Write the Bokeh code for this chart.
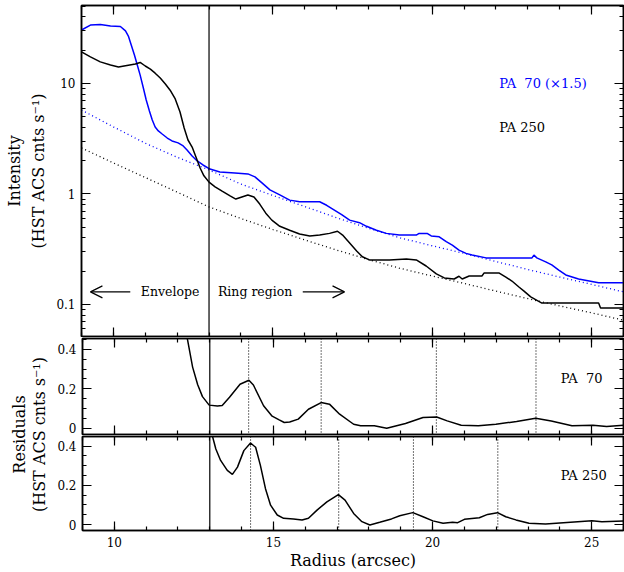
import math
from bokeh.plotting import figure
from bokeh.models import (Range1d, LinearAxis, LogAxis, FixedTicker, Span, Label, Arrow, OpenHead,
                          CustomJSTickFormatter)
from bokeh.layouts import column, row
from bokeh.embed import file_html
from bokeh.resources import INLINE

# ---------------- data ----------------
# Top panel: intensity profiles
pa70_r = [9.00, 9.28, 9.59, 9.91, 10.22, 10.38, 10.47, 10.56, 10.66, 10.75, 10.84, 10.94, 11.03, 11.13,
          11.22, 11.31, 11.41, 11.53, 11.69, 11.84, 12.03, 12.19, 12.31, 12.47, 12.63, 12.81, 13.03, 13.34,
          13.81, 14.22, 14.44, 14.66, 14.91, 15.22, 15.53, 15.84, 16.47, 16.69, 16.88, 17.16, 17.41, 17.72,
          17.94, 18.25, 18.56, 18.97, 19.50, 19.59, 19.84, 19.97, 20.22, 20.44, 20.63, 20.84, 21.06, 21.25,
          21.69, 23.13, 23.19, 23.28, 23.56, 23.75, 23.97, 24.19, 24.59, 25.22, 26.0]
pa70_i = [30.5, 33.8, 34.2, 33.1, 32.8, 29.9, 26.9, 22.3, 18.1, 14.7, 11.9, 9.10, 7.09, 5.64,
          4.68, 4.04, 3.72, 3.49, 3.21, 3.02, 2.90, 2.72, 2.50, 2.21, 1.99, 1.83, 1.68, 1.58,
          1.55, 1.52, 1.43, 1.26, 1.09, 0.98, 0.88, 0.85, 0.85, 0.79, 0.73, 0.65, 0.58, 0.55,
          0.51, 0.47, 0.44, 0.425, 0.425, 0.44, 0.44, 0.417, 0.41, 0.37, 0.345, 0.31, 0.29, 0.28,
          0.264, 0.264, 0.28, 0.264, 0.243, 0.228, 0.205, 0.185, 0.170, 0.157, 0.157]

pa250_r = [9.00, 9.28, 9.59, 9.91, 10.16, 10.38, 10.69, 10.84, 11.00, 11.16, 11.31, 11.47, 11.63, 11.78,
           11.94, 12.09, 12.22, 12.34, 12.47, 12.59, 12.72, 12.84, 13.00, 13.19, 13.41, 13.66, 13.84, 14.03,
           14.22, 14.41, 14.59, 14.78, 14.97, 15.22, 15.53, 15.84, 16.16, 16.47, 16.78, 17.03, 17.19, 17.41,
           17.63, 17.81, 18.03, 18.66, 19.19, 19.50, 19.81, 20.13, 20.38, 20.69, 20.84, 20.94, 21.16, 21.56,
           21.63, 22.09, 22.31, 22.50, 22.72, 22.88, 23.09, 23.44, 25.22, 25.28, 25.34, 26.0]
pa250_i = [19.3, 17.4, 15.7, 14.7, 14.1, 14.5, 15.0, 15.5, 14.4, 13.5, 12.4, 11.2, 9.9, 8.7,
           7.24, 5.52, 3.96, 3.08, 2.66, 2.16, 1.72, 1.46, 1.28, 1.16, 1.06, 0.96, 0.90, 0.94,
           0.98, 0.94, 0.81, 0.67, 0.58, 0.51, 0.47, 0.435, 0.417, 0.425, 0.44, 0.46, 0.425, 0.36,
           0.305, 0.27, 0.253, 0.253, 0.258, 0.253, 0.223, 0.189, 0.174, 0.170, 0.18, 0.17, 0.181, 0.181,
           0.193, 0.193, 0.177, 0.163, 0.144, 0.132, 0.117, 0.103, 0.103, 0.093, 0.093, 0.093]

# smooth envelope fits (dotted)
fit_r = [9, 10, 11, 12, 13, 14, 15, 16, 17, 18, 19, 20, 21, 22, 23, 24, 25, 26]
fit70 = [5.75, 4.05, 2.88, 2.15, 1.65, 1.23, 0.97, 0.77, 0.61, 0.49, 0.40, 0.34, 0.29, 0.245,
         0.207, 0.177, 0.152, 0.130]
fit250 = [2.61, 1.91, 1.41, 1.04, 0.763, 0.60, 0.477, 0.384, 0.311, 0.255, 0.212, 0.181, 0.155,
          0.132, 0.113, 0.097, 0.084, 0.072]

# Residual panels
res70_r = [12.25, 12.30, 12.46, 12.62, 12.77, 12.98, 13.24, 13.39, 13.62, 13.95, 14.23, 14.37, 14.69,
           14.96, 15.18, 15.34, 15.51, 15.78, 16.10, 16.50, 16.76, 17.08, 17.52, 17.74, 18.17, 18.56,
           19.15, 19.70, 20.13, 20.46, 20.90, 21.44, 21.99, 22.64, 23.24, 23.73, 24.38, 25.04, 25.47, 26.0]
res70_v = [0.50, 0.449, 0.31, 0.22, 0.16, 0.117, 0.113, 0.115, 0.157, 0.223, 0.243, 0.219, 0.114,
           0.061, 0.042, 0.029, 0.031, 0.046, 0.096, 0.130, 0.122, 0.071, 0.020, 0.012, 0.012, 0.0,
           0.024, 0.054, 0.057, 0.037, 0.015, 0.012, 0.020, 0.034, 0.051, 0.037, 0.012, 0.015, 0.008, 0.015]

res250_r = [13.05, 13.08, 13.19, 13.34, 13.55, 13.71, 13.87, 14.07, 14.28, 14.44, 14.59, 14.75, 14.91,
            15.12, 15.32, 15.63, 15.90, 16.10, 16.37, 16.68, 17.04, 17.25, 17.52, 17.78, 18.03, 18.34,
            18.71, 18.97, 19.38, 19.70, 20.01, 20.33, 20.63, 20.79, 21.0, 21.47, 21.73, 22.04, 22.30,
            22.62, 23.03, 23.55, 25.01, 25.32, 26.0]
res250_v = [0.47, 0.453, 0.385, 0.327, 0.276, 0.256, 0.293, 0.377, 0.416, 0.394, 0.302, 0.183, 0.099,
            0.049, 0.032, 0.029, 0.024, 0.032, 0.074, 0.116, 0.153, 0.125, 0.057, 0.015, -0.002, 0.012,
            0.029, 0.045, 0.061, 0.040, 0.019, 0.007, 0.012, 0.010, 0.027, 0.035, 0.052, 0.061, 0.040,
            0.024, 0.007, 0.003, 0.020, 0.015, 0.018]

ring_boundary = 13.0
peaks70 = [14.22, 16.5, 20.12, 23.25]
peaks250 = [14.28, 17.05, 19.4, 22.05]

x_major = [10, 15, 20, 25]
x_minor = list(range(9, 27))
log_major = [0.1, 1, 10]
log_minor = [0.06, 0.07, 0.08, 0.09, 0.2, 0.3, 0.4, 0.5, 0.6, 0.7, 0.8, 0.9,
             2, 3, 4, 5, 6, 7, 8, 9, 20, 30, 40, 50]
res_major = [0, 0.2, 0.4]
res_minor = [0, 0.05, 0.1, 0.15, 0.2, 0.25, 0.3, 0.35, 0.4, 0.45]

# ---------------- styling ----------------
FONT = "DejaVu Serif"
BLUE = "#0000ff"
XR = (9, 26)
LW = 1.5
TITLE_SIZE = "16px"


def style_axis(ax, show_labels):
    ax.major_tick_in = 9
    ax.major_tick_out = 0
    ax.minor_tick_in = 4
    ax.minor_tick_out = 0
    ax.major_tick_line_color = "black"
    ax.minor_tick_line_color = "black"
    ax.major_tick_line_width = 1.2
    ax.minor_tick_line_width = 1.2
    ax.axis_line_color = "black"
    ax.axis_line_width = 1.5
    ax.formatter = CustomJSTickFormatter(code="return String(tick);")
    if show_labels:
        ax.major_label_text_font = FONT
        ax.major_label_text_font_size = "12px"
        ax.major_label_text_color = "black"
        ax.major_label_standoff = 6
    else:
        ax.major_label_text_font_size = "1px"
        ax.major_label_text_color = None
        ax.major_label_standoff = 0


def style_title(ax, text, standoff):
    ax.axis_label = text
    ax.axis_label_text_font = FONT
    ax.axis_label_text_font_size = TITLE_SIZE
    ax.axis_label_text_font_style = "normal"
    ax.axis_label_text_color = "black"
    ax.axis_label_standoff = standoff


def base_fig(**kw):
    p = figure(output_backend="svg", toolbar_location=None, x_range=Range1d(*XR),
               outline_line_color="black", outline_line_width=1.5,
               background_fill_color="white", border_fill_color="white", **kw)
    p.grid.visible = False
    return p


def text_label(x, y, text, size="13px", color="black", align="left", angle=0.0):
    return Label(x=x, y=y, text=text, text_color=color, text_font=FONT, text_font_size=size,
                 text_baseline="middle", text_align=align, angle=angle)


# ---------------- top panel ----------------
p1 = base_fig(width=624, height=337, y_range=Range1d(0.0513, 50.8), y_axis_type="log",
              min_border_left=81, min_border_right=1, min_border_top=5, min_border_bottom=1)
p1.xaxis.ticker = FixedTicker(ticks=x_major, minor_ticks=x_minor)
style_axis(p1.below[0], False)
p1.yaxis.ticker = FixedTicker(ticks=log_major, minor_ticks=log_minor)
style_axis(p1.left[0], True)
style_title(p1.left[0], "(HST ACS cnts s\u207b\u00b9)", 5)
# outer title line of the y axis
yo = LogAxis(ticker=FixedTicker(ticks=[], minor_ticks=[]))
style_axis(yo, False)
yo.axis_line_color = None
yo.major_tick_in = 0
yo.minor_tick_in = 0
style_title(yo, "Intensity", 3)
p1.add_layout(yo, "left")
ax = LinearAxis(ticker=FixedTicker(ticks=x_major, minor_ticks=x_minor))
style_axis(ax, False)
p1.add_layout(ax, "above")
ax = LogAxis(ticker=FixedTicker(ticks=log_major, minor_ticks=log_minor))
style_axis(ax, False)
p1.add_layout(ax, "right")

p1.line(fit_r, fit70, line_color=BLUE, line_width=1.3, line_dash="1 3")
p1.line(fit_r, fit250, line_color="black", line_width=1.3, line_dash="1 3")
p1.line(pa70_r, pa70_i, line_color=BLUE, line_width=LW)
p1.line(pa250_r, pa250_i, line_color="black", line_width=LW)
p1.add_layout(Span(location=ring_boundary, dimension="height", line_color="black", line_width=1.2))

p1.add_layout(text_label(22.1, 10.1, "PA\u00a0 70 (\u00d71.5)", color=BLUE))
p1.add_layout(text_label(22.1, 3.96, "PA 250"))
p1.add_layout(text_label(11.78, 0.13, "Envelope", size="12.5px", align="center"))
p1.add_layout(text_label(13.28, 0.13, "Ring region", size="12.5px"))
p1.add_layout(Arrow(end=OpenHead(size=12, line_width=1.2, line_color="black"),
                    x_start=10.53, y_start=0.13, x_end=9.28, y_end=0.13,
                    line_width=1.2, line_color="black"))
p1.add_layout(Arrow(end=OpenHead(size=12, line_width=1.2, line_color="black"),
                    x_start=15.94, y_start=0.13, x_end=17.25, y_end=0.13,
                    line_width=1.2, line_color="black"))


# ---------------- residual panels ----------------
def resid_fig(height, ymin, ymax, top, bottom, labels_x):
    p = base_fig(width=570, height=height, y_range=Range1d(ymin, ymax),
                 min_border_left=27, min_border_right=1, min_border_top=top, min_border_bottom=bottom)
    p.xaxis.ticker = FixedTicker(ticks=x_major, minor_ticks=x_minor)
    style_axis(p.below[0], labels_x)
    p.yaxis.ticker = FixedTicker(ticks=res_major, minor_ticks=res_minor)
    style_axis(p.left[0], True)
    a = LinearAxis(ticker=FixedTicker(ticks=x_major, minor_ticks=x_minor))
    style_axis(a, False)
    p.add_layout(a, "above")
    a = LinearAxis(ticker=FixedTicker(ticks=res_major, minor_ticks=res_minor))
    style_axis(a, False)
    p.add_layout(a, "right")
    p.add_layout(Span(location=ring_boundary, dimension="height", line_color="black", line_width=1.2))
    return p


p2 = resid_fig(98, -0.032, 0.455, 1, 1, False)
for pk in peaks70:
    p2.add_layout(Span(location=pk, dimension="height", line_color="black", line_width=1.1,
                       line_dash="1 2"))
p2.line(res70_r, res70_v, line_color="black", line_width=LW)
p2.add_layout(text_label(24.03, 0.25, "PA\u00a0 70"))

p3 = resid_fig(137, -0.03, 0.449, 1, 41, True)
xb = p3.below[0]
xb.major_label_standoff = 6
style_title(xb, "Radius (arcsec)", 1)
for pk in peaks250:
    p3.add_layout(Span(location=pk, dimension="height", line_color="black", line_width=1.1,
                       line_dash="1 2"))
p3.line(res250_r, res250_v, line_color="black", line_width=LW)
p3.add_layout(text_label(24.03, 0.249, "PA 250"))

# label column for the residual y-axis title (spans both residual panels)
lab = figure(width=54, height=235, x_range=Range1d(0, 54), y_range=Range1d(0, 235),
             output_backend="svg", toolbar_location=None, min_border=0,
             x_axis_location=None, y_axis_location=None, outline_line_color=None,
             background_fill_color="white", border_fill_color="white")
lab.grid.visible = False
lab.add_layout(text_label(19, 138, "Residuals", size=TITLE_SIZE, align="center", angle=math.pi / 2))
lab.add_layout(text_label(39, 138, "(HST ACS cnts s\u207b\u00b9)", size=TITLE_SIZE, align="center",
                          angle=math.pi / 2))

layout = column(p1, row(lab, column(p2, p3)))

open("out.html", "w").write(file_html(layout, INLINE))
